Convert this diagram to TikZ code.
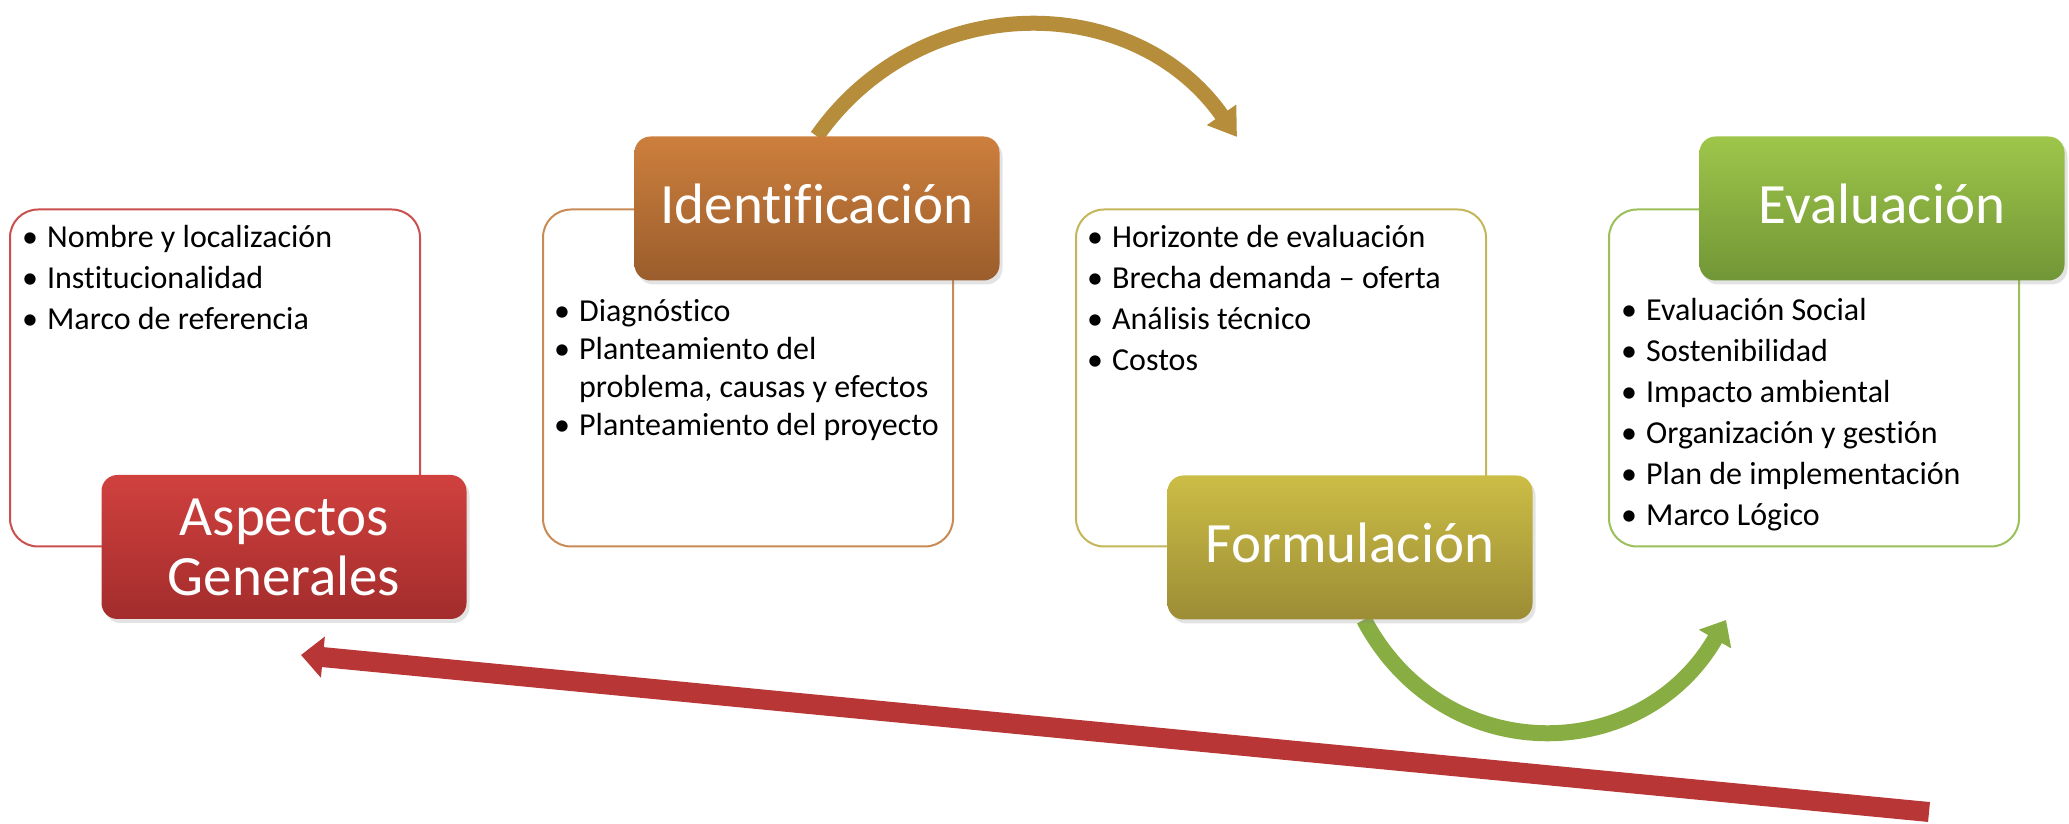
\documentclass[tikz,border=0pt]{standalone}
\usepackage{fontspec}
\setmainfont{Carlito}[Ligatures=NoCommon]
\usepackage{tikz}
\usetikzlibrary{arrows.meta,positioning,calc,shadows,backgrounds}

\definecolor{redTop}{HTML}{D0413E}
\definecolor{redBot}{HTML}{A32C2C}
\definecolor{orangeTop}{HTML}{CD7F3D}
\definecolor{orangeBot}{HTML}{9A5D2C}
\definecolor{oliveTop}{HTML}{CBBD45}
\definecolor{oliveBot}{HTML}{9C8D36}
\definecolor{greenTop}{HTML}{9EC64A}
\definecolor{greenBot}{HTML}{719636}
\definecolor{redLine}{HTML}{C9504D}
\definecolor{orangeLine}{HTML}{C98A55}
\definecolor{oliveLine}{HTML}{C4B759}
\definecolor{greenLine}{HTML}{9BBF59}
\definecolor{goldArrow}{HTML}{B68E3B}
\definecolor{greenArrow}{HTML}{88AD42}
\definecolor{redArrow}{HTML}{B93636}

\begin{document}
\begin{tikzpicture}[x=1pt, y=1pt, node distance=533pt, >={Triangle[width=34pt,length=27pt]}]
    \tikzstyle{infobox}=[draw, line width=2pt, rounded corners=28pt, fill=white, minimum width=410pt, minimum height=337pt]
    \tikzstyle{stagebox}=[rounded corners=16pt, minimum width=365pt, minimum height=144pt, text=white, font=\fontsize{57}{60}\selectfont, align=center, drop shadow={shadow xshift=3pt, shadow yshift=-4pt, opacity=0.22}]
    \tikzstyle{oneline}=[text height=31pt, text depth=0pt]
    \tikzstyle{bullets}=[anchor=base west, inner sep=0pt, font=\fontsize{32}{41}\selectfont]
    \useasboundingbox (0,0) rectangle (2069,824);

    % white boxes with the contents
    \node[infobox, draw=redLine]    (aspInfo)  at (215,446)  {};
    \node[infobox, draw=orangeLine] (idenInfo) [right of=aspInfo]  {};
    \node[infobox, draw=oliveLine]  (formInfo) [right of=idenInfo] {};
    \node[infobox, draw=greenLine]  (evalInfo) [right of=formInfo] {};

    \node[bullets] (aspList) at ([shift={(13,-39)}]aspInfo.north west) {\begin{tabular}[t]{@{}l@{\hspace{9pt}}l@{}}
        \textbullet & Nombre y localización\\
        \textbullet & Institucionalidad\\
        \textbullet & Marco de referencia
    \end{tabular}};
    \node[bullets, font=\fontsize{32}{38}\selectfont] (idenList) at ([shift={(12,-113)}]idenInfo.north west) {\begin{tabular}[t]{@{}l@{\hspace{9pt}}l@{}}
        \textbullet & Diagnóstico\\
        \textbullet & Planteamiento del\\
                    & problema, causas y efectos\\
        \textbullet & Planteamiento del proyecto
    \end{tabular}};
    \node[bullets] (formList) at ([shift={(12,-39)}]formInfo.north west) {\begin{tabular}[t]{@{}l@{\hspace{9pt}}l@{}}
        \textbullet & Horizonte de evaluación\\
        \textbullet & Brecha demanda – oferta\\
        \textbullet & Análisis técnico\\
        \textbullet & Costos
    \end{tabular}};
    \node[bullets] (evalList) at ([shift={(13,-112)}]evalInfo.north west) {\begin{tabular}[t]{@{}l@{\hspace{9pt}}l@{}}
        \textbullet & Evaluación Social\\
        \textbullet & Sostenibilidad\\
        \textbullet & Impacto ambiental\\
        \textbullet & Organización y gestión\\
        \textbullet & Plan de implementación\\
        \textbullet & Marco Lógico
    \end{tabular}};

    % stage boxes
    \node[stagebox, top color=redTop, bottom color=redBot]             (aspTitle)  at ($(aspInfo)+(69,-169)$)   {Aspectos\\Generales};
    \node[stagebox, oneline, top color=orangeTop, bottom color=orangeBot] (idenTitle) at ($(idenInfo)+(69,169.5)$) {Identificación};
    \node[stagebox, oneline, top color=oliveTop, bottom color=oliveBot]   (formTitle) at ($(formInfo)+(69,-169.5)$) {Formulación};
    \node[stagebox, oneline, top color=greenTop, bottom color=greenBot]   (evalTitle) at ($(evalInfo)+(68,169.5)$) {Evaluación};

    \coordinate (goldTip)   at (1237,687);
    \coordinate (greenTip)  at (1726,204);
    \coordinate (backStart) at (1929,12);
    \coordinate (backTip)   at (301,169);

    % arrows
    \begin{scope}[on background layer]
    \draw[->, line width=15pt, goldArrow] (idenTitle.north) to[out=55, in=125, looseness=1.1] (goldTip);
    \draw[->, line width=16pt, greenArrow, >={Triangle[width=36pt,length=22pt]}] ([xshift=14pt]formTitle.south) to[out=-62, in=-120, looseness=1.2] (greenTip);
    \draw[->, line width=20pt, redArrow, >={Triangle[width=40pt,length=22pt]}] (backStart) -- (backTip);
    \end{scope}
\end{tikzpicture}
\end{document}
